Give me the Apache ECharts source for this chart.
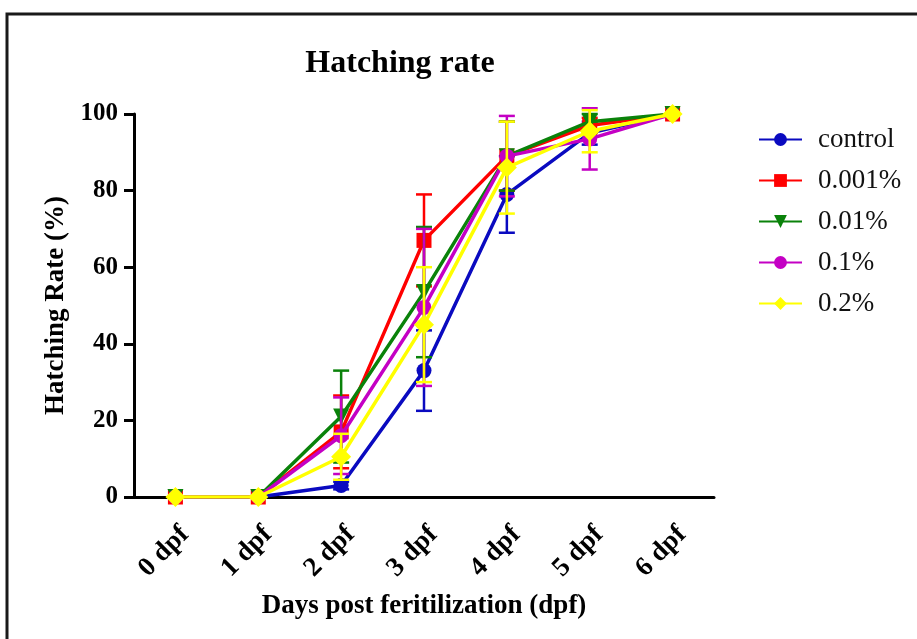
<!DOCTYPE html>
<html>
<head>
<meta charset="utf-8">
<script src="https://cdn.jsdelivr.net/npm/echarts@6/dist/echarts.min.js"></script>
<style>
  html, body { margin: 0; padding: 0; background: #fff; }
  #main { width: 917px; height: 639px; }
</style>
</head>
<body>
<div id="main"></div>
<script>
// days post fertilization
var dayLabels = ['0 dpf', '1 dpf', '2 dpf', '3 dpf', '4 dpf', '5 dpf', '6 dpf'];
var groups = ['control', '0.001%', '0.01%', '0.1%', '0.2%'];

// mean hatching rate (%) per group
var controlMean = [0, 0, 3, 33, 79, 95, 100];
var low1Mean    = [0, 0, 17, 67, 89, 97, 100];
var low2Mean    = [0, 0, 21, 53.5, 89, 98, 100];
var midMean     = [0, 0, 16, 49.5, 89, 93.5, 100];
var highMean    = [0, 0, 10.5, 45, 86, 95.5, 100];

// error (+/-) per group
var controlErr = [0, 0, 1, 10.5, 10, 3, 0];
var low1Err    = [0, 0, 9.5, 12, 9, 2, 0];
var low2Err    = [0, 0, 12, 17, 9, 2, 0];
var midErr     = [0, 0, 10, 20.5, 10.5, 8, 0];
var highErr    = [0, 0, 6, 15, 12, 5.5, 0];

var means = [controlMean, low1Mean, low2Mean, midMean, highMean];
var errs = [controlErr, low1Err, low2Err, midErr, highErr];
var colors = ['#0a0ac0', '#ff0000', '#0a820a', '#c400c4', '#ffff00'];
var symbols = ['circle', 'rect', 'path://M0,0 L10,0 L5,10 Z', 'circle', 'diamond'];
var sizes = [15, 15, 16, 15, 20];

var FONT = '"Liberation Serif", "DejaVu Serif", serif';

var chartDom = document.getElementById('main');
var myChart = echarts.init(chartDom);
var option;

function errBar(color) {
  return function (params, api) {
    var x = api.value(0), m = api.value(1), e = api.value(2);
    if (!e) return;
    var top = api.coord([x, m + e]);
    var bot = api.coord([x, m - e]);
    var half = 8;
    var st = { stroke: color, lineWidth: 2.5 };
    return {
      type: 'group',
      children: [
        { type: 'line', shape: { x1: top[0], y1: top[1], x2: bot[0], y2: bot[1] }, style: st },
        { type: 'line', shape: { x1: top[0] - half, y1: top[1], x2: top[0] + half, y2: top[1] }, style: st },
        { type: 'line', shape: { x1: bot[0] - half, y1: bot[1], x2: bot[0] + half, y2: bot[1] }, style: st }
      ]
    };
  };
}

var series = [];
groups.forEach(function (g, i) {
  series.push({
    name: 'err ' + g,
    type: 'custom',
    renderItem: errBar(colors[i]),
    data: dayLabels.map(function (d, k) { return [k, means[i][k], errs[i][k]]; }),
    z: 2 + i * 2
  });
  series.push({
    name: g,
    type: 'line',
    data: means[i],
    symbol: symbols[i],
    symbolSize: sizes[i],
    showAllSymbol: true,
    lineStyle: { color: colors[i], width: 3.5 },
    itemStyle: { color: colors[i] },
    z: 3 + i * 2
  });
});

option = {
  animation: false,
  backgroundColor: '#fff',
  title: {
    text: 'Hatching rate',
    left: 395,
    top: 43,
    textAlign: 'center',
    textStyle: { fontFamily: FONT, fontSize: 32, fontWeight: 'bold', color: '#000' }
  },
  graphic: [{
    type: 'rect',
    shape: { x: 7, y: 14, width: 940, height: 660 },
    style: { fill: 'none', stroke: '#1a1a1a', lineWidth: 3 }
  }],
  legend: {
    orient: 'vertical',
    left: 753,
    top: 121,
    itemWidth: 43,
    itemHeight: 16,
    itemGap: 14,
    data: groups,
    textStyle: { fontFamily: FONT, fontSize: 27, color: '#111', padding: [0, 0, 0, 11] }
  },
  grid: { left: 134, right: 203, top: 114, bottom: 142 },
  xAxis: {
    type: 'category',
    data: dayLabels,
    boundaryGap: true,
    name: 'Days post feritilization (dpf)',
    nameLocation: 'middle',
    nameGap: 96,
    nameTextStyle: { fontFamily: FONT, fontSize: 27, fontWeight: 'bold', color: '#000' },
    splitLine: { show: false },
    axisLine: { lineStyle: { color: '#000', width: 3 } },
    axisTick: { alignWithLabel: true, length: 10, lineStyle: { width: 3, color: '#000' } },
    axisLabel: {
      rotate: 45,
      margin: 24,
      interval: 0,
      verticalAlign: 'top',
      fontFamily: FONT,
      fontSize: 27,
      fontWeight: 'bold',
      color: '#000'
    }
  },
  yAxis: {
    type: 'value',
    min: 0,
    max: 100,
    interval: 20,
    name: 'Hatching Rate (%)',
    nameLocation: 'middle',
    nameGap: 63,
    nameTextStyle: { fontFamily: FONT, fontSize: 27, fontWeight: 'bold', color: '#000' },
    splitLine: { show: false },
    axisLine: { show: true, onZero: false, lineStyle: { color: '#000', width: 3 } },
    axisTick: { show: true, length: 10, lineStyle: { width: 3, color: '#000' } },
    axisLabel: { margin: 16, fontFamily: FONT, fontSize: 25, fontWeight: 'bold', color: '#000' }
  },
  series: series
};

option && myChart.setOption(option);
</script>
</body>
</html>
